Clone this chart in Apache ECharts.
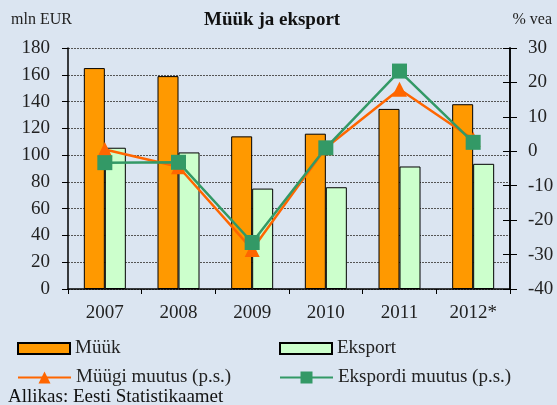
<!DOCTYPE html>
<html><head><meta charset="utf-8">
<script src="https://cdn.jsdelivr.net/npm/echarts@6/dist/echarts.min.js"></script>
<style>html,body{margin:0;padding:0;background:#dbe5f1;}#c{width:557px;height:405px;}</style>
</head><body><div id="c"></div>
<script>
const categories = ['2007','2008','2009','2010','2011','2012*'];
const muuk = [165, 159, 114, 116, 134.5, 138];
const eksport = [105.5, 102, 75, 76, 91.5, 93.5];
const muugiMuutus = [0.5, -4.5, -28.5, 1, 18, 3.5];
const ekspordiMuutus = [-3.3, -3.2, -26.5, 1, 23.3, 2.6];
const leftTicks = {min: 0, max: 180, interval: 20};
const rightTicks = {min: -40, max: 30, interval: 10};

const F = 'Liberation Serif, DejaVu Serif, serif';
const chart = echarts.init(document.getElementById('c'));
const lbl = {fontFamily: F, fontSize: 19, color: '#222'};
chart.setOption({
  backgroundColor: '#dbe5f1',
  animation: false,
  grid: {left: 68, right: 47, top: 48, bottom: 116},
  xAxis: {
    type: 'category', data: categories,
    axisLine: {lineStyle: {color: '#000', width: 1.5}},
    axisTick: {show: true, length: 5, lineStyle: {color: '#000'}},
    axisLabel: Object.assign({margin: 15}, lbl)
  },
  yAxis: [
    {type: 'value', position: 'left', min: leftTicks.min, max: leftTicks.max, interval: leftTicks.interval,
     axisLine: {show: true, lineStyle: {color: '#000', width: 1.5}},
     axisTick: {show: true, length: 6, lineStyle: {color: '#000'}},
     axisLabel: Object.assign({margin: 18}, lbl),
     splitLine: {show: true, lineStyle: {color: '#555', type: [2, 1], width: 1}}},
    {type: 'value', position: 'right', min: rightTicks.min, max: rightTicks.max, interval: rightTicks.interval,
     axisLine: {show: true, lineStyle: {color: '#000', width: 1.5}},
     axisTick: {show: true, length: 7, lineStyle: {color: '#000'}},
     axisLabel: Object.assign({margin: 18}, lbl),
     splitLine: {show: false}},
    {type: 'value', position: 'right', min: rightTicks.min, max: rightTicks.max, interval: rightTicks.interval,
     axisLine: {show: true, lineStyle: {color: '#000', width: 1.5}},
     axisTick: {show: true, inside: true, length: 7, lineStyle: {color: '#000'}},
     axisLabel: {show: false},
     splitLine: {show: false}}
  ],
  legend: [
    {data: [{name: 'Müük', icon: 'rect'}], left: 12, top: 334, itemWidth: 52, itemHeight: 11, itemGap: 6, textStyle: lbl},
    {data: [{name: 'Eksport', icon: 'rect'}], left: 274, top: 334, itemWidth: 52, itemHeight: 11, textStyle: lbl},
    {data: ['Müügi muutus (p.s.)'], left: 12, top: 363, itemWidth: 53, itemHeight: 15, textStyle: lbl},
    {data: ['Ekspordi muutus (p.s.)'], left: 274, top: 363, itemWidth: 53, itemHeight: 15, textStyle: lbl}
  ],
  graphic: [
    {type: 'text', left: 11, top: 12, style: {text: 'mln EUR', font: '16px ' + F, fill: '#222'}},
    {type: 'text', right: 5, top: 12, style: {text: '% vea', font: '16px ' + F, fill: '#222'}},
    {type: 'text', left: 204, top: 11, style: {text: 'Müük ja eksport', font: 'bold 19px ' + F, fill: '#111'}},
    {type: 'text', left: 8, top: 388, style: {text: 'Allikas: Eesti Statistikaamet', font: '19px ' + F, fill: '#111'}}
  ],
  series: [
    {name: 'Müük', type: 'bar', data: muuk, barWidth: 21, barGap: '0%',
     itemStyle: {color: '#ff9900', borderColor: '#000', borderWidth: 1}},
    {name: 'Eksport', type: 'bar', data: eksport, barWidth: 21,
     itemStyle: {color: '#ccffcc', borderColor: '#000', borderWidth: 1}},
    {name: 'Müügi muutus (p.s.)', type: 'line', yAxisIndex: 1, data: muugiMuutus,
     symbol: 'triangle', symbolSize: 15, lineStyle: {color: '#ff6600', width: 2.5},
     itemStyle: {color: '#ff6600'}},
    {name: 'Ekspordi muutus (p.s.)', type: 'line', yAxisIndex: 1, data: ekspordiMuutus,
     symbol: 'rect', symbolSize: 15, lineStyle: {color: '#339966', width: 2.5},
     itemStyle: {color: '#339966'}}
  ]
});
</script></body></html>
